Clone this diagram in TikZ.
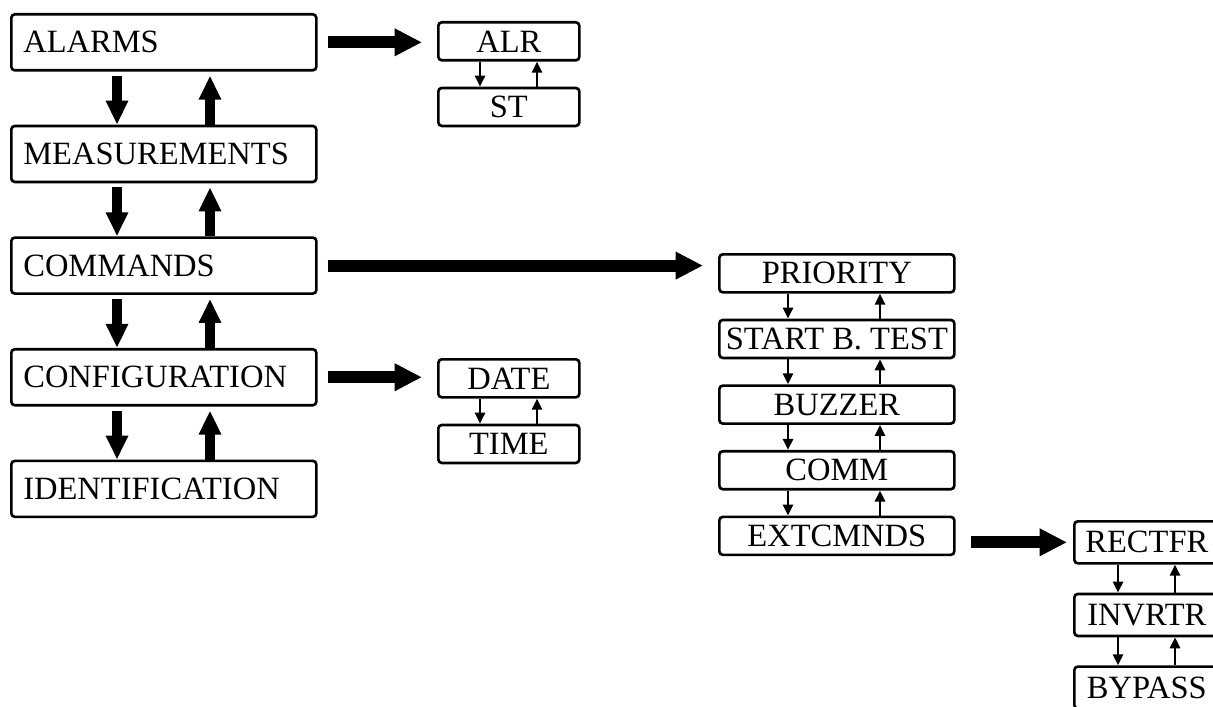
\documentclass[tikz,border=0pt]{standalone}
\usepackage{fontspec}
\setmainfont{Liberation Serif}
\usepackage{tikz}
\usetikzlibrary{positioning}
\usetikzlibrary{arrows.meta}

\newcommand{\menufont}{\fontsize{18.5}{20}\selectfont}
\tikzset{
  menubox/.style={draw, line width=1.5pt, rounded corners=2pt, minimum width=6.1cm, minimum height=1.12cm, text width=5.62cm, align=left, inner sep=0.24cm, font=\menufont},
  subbox/.style={draw, line width=1.5pt, rounded corners=2pt, minimum height=0.76cm, inner sep=0pt, font=\menufont},
  bigarrow/.style={-{Triangle[length=0.48cm,width=0.42cm]}, line width=5.7pt},
  widearrow/.style={-{Triangle[length=0.55cm,width=0.52cm]}, line width=6.8pt},
  thinarrow/.style={-{Triangle[length=0.22cm,width=0.2cm]}, line width=1.6pt},
}

\begin{document}
\begin{tikzpicture}
  \useasboundingbox (0,0) rectangle (24.26,-14.12);

  % main menu
  \node [menubox, anchor=north west] (alarms) at (0.2,-0.26) {ALARMS};
  \node [menubox, below=1.06cm of alarms] (meas) {MEASUREMENTS};
  \node [menubox, below=1.06cm of meas] (cmds) {COMMANDS};
  \node [menubox, below=1.06cm of cmds] (config) {CONFIGURATION};
  \node [menubox, below=1.06cm of config] (ident) {IDENTIFICATION};

  % sub menus
  \node [subbox, minimum width=2.82cm, anchor=north west] (alr) at (8.74,-0.42) {ALR};
  \node [subbox, minimum width=2.82cm, below=0.5cm of alr] (st) {ST};
  \node [subbox, minimum width=2.82cm, anchor=north west] (date) at (8.74,-7.16) {DATE};
  \node [subbox, minimum width=2.82cm, below=0.5cm of date] (time) {TIME};

  \node [subbox, minimum width=4.7cm, anchor=north west] (priority) at (14.36,-5.06) {PRIORITY};
  \node [subbox, minimum width=4.7cm, below=0.5cm of priority] (btest) {START B. TEST};
  \node [subbox, minimum width=4.7cm, below=0.5cm of btest] (buzzer) {BUZZER};
  \node [subbox, minimum width=4.7cm, below=0.5cm of buzzer] (comm) {COMM};
  \node [subbox, minimum width=4.7cm, below=0.5cm of comm] (extc) {EXTCMNDS};

  \node [subbox, minimum width=2.9cm, minimum height=0.84cm, anchor=north west] (rectfr) at (21.46,-10.4) {RECTFR};
  \node [subbox, minimum width=2.9cm, minimum height=0.84cm, below=0.56cm of rectfr] (invrtr) {INVRTR};
  \node [subbox, minimum width=2.9cm, minimum height=0.84cm, below=0.56cm of invrtr] (bypass) {BYPASS};

  \path
    ([xshift=2.14cm]alarms.south west) edge [bigarrow, shorten <=2.3pt] ([xshift=2.14cm]meas.north west)
    ([xshift=4cm]meas.north west) edge [bigarrow, shorten >=2.3pt] ([xshift=4cm]alarms.south west)
    ([xshift=2.14cm]meas.south west) edge [bigarrow, shorten <=2.3pt] ([xshift=2.14cm]cmds.north west)
    ([xshift=4cm]cmds.north west) edge [bigarrow, shorten >=2.3pt] ([xshift=4cm]meas.south west)
    ([xshift=2.14cm]cmds.south west) edge [bigarrow, shorten <=2.3pt] ([xshift=2.14cm]config.north west)
    ([xshift=4cm]config.north west) edge [bigarrow, shorten >=2.3pt] ([xshift=4cm]cmds.south west)
    ([xshift=2.14cm]config.south west) edge [bigarrow, shorten <=2.3pt] ([xshift=2.14cm]ident.north west)
    ([xshift=4cm]ident.north west) edge [bigarrow, shorten >=2.3pt] ([xshift=4cm]config.south west)
  ;
  \path
    (alarms.east) edge [widearrow, shorten <=0.2cm, shorten >=0.3cm] (alarms.east -| alr.west)
    (cmds.east) edge [widearrow, shorten <=0.2cm, shorten >=0.3cm] (cmds.east -| priority.west)
    (config.east) edge [widearrow, shorten <=0.2cm, shorten >=0.3cm] (config.east -| date.west)
    (rectfr.west -| extc.east) edge [widearrow, shorten <=0.3cm, shorten >=0.12cm] (rectfr.west)
  ;
  \path
    ([xshift=0.86cm]alr.south west) edge [thinarrow] ([xshift=0.86cm]st.north west)
    ([xshift=2cm]st.north west) edge [thinarrow] ([xshift=2cm]alr.south west)
    ([xshift=0.86cm]date.south west) edge [thinarrow] ([xshift=0.86cm]time.north west)
    ([xshift=2cm]time.north west) edge [thinarrow] ([xshift=2cm]date.south west)
    ([xshift=1.4cm]priority.south west) edge [thinarrow] ([xshift=1.4cm]btest.north west)
    ([xshift=3.24cm]btest.north west) edge [thinarrow] ([xshift=3.24cm]priority.south west)
    ([xshift=1.4cm]btest.south west) edge [thinarrow] ([xshift=1.4cm]buzzer.north west)
    ([xshift=3.24cm]buzzer.north west) edge [thinarrow] ([xshift=3.24cm]btest.south west)
    ([xshift=1.4cm]buzzer.south west) edge [thinarrow] ([xshift=1.4cm]comm.north west)
    ([xshift=3.24cm]comm.north west) edge [thinarrow] ([xshift=3.24cm]buzzer.south west)
    ([xshift=1.4cm]comm.south west) edge [thinarrow] ([xshift=1.4cm]extc.north west)
    ([xshift=3.24cm]extc.north west) edge [thinarrow] ([xshift=3.24cm]comm.south west)
    ([xshift=0.9cm]rectfr.south west) edge [thinarrow] ([xshift=0.9cm]invrtr.north west)
    ([xshift=2.04cm]invrtr.north west) edge [thinarrow] ([xshift=2.04cm]rectfr.south west)
    ([xshift=0.9cm]invrtr.south west) edge [thinarrow] ([xshift=0.9cm]bypass.north west)
    ([xshift=2.04cm]bypass.north west) edge [thinarrow] ([xshift=2.04cm]invrtr.south west)
  ;
\end{tikzpicture}
\end{document}
